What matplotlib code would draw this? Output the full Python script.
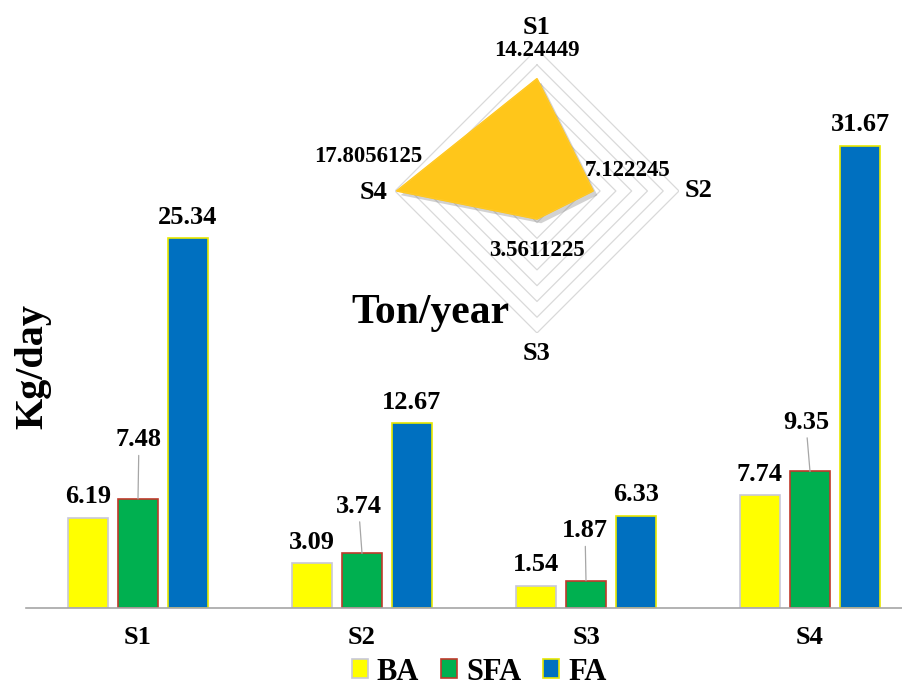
import numpy as np
import matplotlib
matplotlib.use("Agg")
import matplotlib.pyplot as plt
from matplotlib.patches import Patch
import matplotlib.patheffects as pe

plt.rcParams['font.family'] = ['Liberation Serif', 'DejaVu Serif']
plt.rcParams['font.weight'] = 'bold'

# data (Kg/day)
sites = ['S1', 'S2', 'S3', 'S4']
BA = [6.19, 3.09, 1.54, 7.74]
SFA = [7.48, 3.74, 1.87, 9.35]
FA = [25.34, 12.67, 6.33, 31.67]
series_names = ['BA', 'SFA', 'FA']

# radar data (Ton/year)
radar_vals = [14.24449, 7.122245, 3.5611225, 17.8056125]

W, H = 902, 688
def px(x, y):
    return x / W, 1 - y / H

fig = plt.figure(figsize=(W/100, H/100), dpi=100)

#------------------------------------------------------------------------------
# bar chart
ax = fig.add_axes([26/W, 1-608/H, (W-26)/W, 608/H])
x = np.arange(len(sites))
step = 50/224          # bar spacing inside a group
bw = 40/224            # bar width
face = ['#FFFF00', '#00B050', '#0070C0']
edge = ['#C8C8D8', '#C0392B', '#E8E800']
data = [BA, SFA, FA]
for k in range(3):
    ax.bar(x + (k-1)*step, data[k], width=bw, color=face[k], edgecolor=edge[k],
           linewidth=1.2, label=series_names[k], zorder=2)

ax.set_xlim(-0.5, (W-26)/224 - 0.5)
ax.set_ylim(0, 608/14.6)
for s in ['top', 'left', 'right']:
    ax.spines[s].set_visible(False)
ax.spines['bottom'].set_color('#A6A6A6')
ax.spines['bottom'].set_linewidth(1.2)
ax.set_yticks([])
ax.set_xticks(x)
ax.set_xticklabels(sites, fontsize=19, fontweight='bold')
ax.tick_params(axis='x', length=0, pad=13)
ax.patch.set_alpha(0)

# value labels: BA / FA right above, SFA with leader line
sfa_off = [(0.7, 42.5), (-2.5, 34), (-0.7, 36), (-3, 35.5)]
for i in range(len(sites)):
    ax.annotate(f'{BA[i]:.2f}', (x[i]-step, BA[i]), xytext=(0, 15), textcoords='offset points',
                ha='center', va='center', fontsize=19, fontweight='bold')
    ax.annotate(f'{FA[i]:.2f}', (x[i]+step, FA[i]), xytext=(0, 15), textcoords='offset points',
                ha='center', va='center', fontsize=19, fontweight='bold')
    ax.annotate(f'{SFA[i]:.2f}', (x[i], SFA[i]), xytext=sfa_off[i], textcoords='offset points',
                ha='center', va='center', fontsize=19, fontweight='bold',
                arrowprops=dict(arrowstyle='-', color='#A6A6A6', lw=0.9, shrinkA=1, shrinkB=0))

fig.text(*px(33, 367), 'Kg/day', rotation=90, ha='center', va='center', fontsize=29, fontweight='bold')

handles = [Patch(facecolor=face[k], edgecolor=edge[k], linewidth=1.2) for k in range(3)]
fig.legend(handles, series_names, loc='center', bbox_to_anchor=px(479, 672), ncol=3, frameon=False,
           handlelength=0.55, handleheight=0.55, handletextpad=0.28, columnspacing=0.7,
           prop=dict(size=22, weight='bold'))

#------------------------------------------------------------------------------
# radar inset
rax = fig.add_axes([395/W, 1-333/H, 284/W, 284/H], projection='polar')
rax.set_theta_offset(np.pi/2)
rax.set_theta_direction(-1)
rax.set_ylim(0, 18)
rax.grid(False)
rax.set_xticks([])
rax.set_yticks([])
rax.spines['polar'].set_visible(False)
rax.patch.set_alpha(0)

angles = np.linspace(0, 2*np.pi, len(sites), endpoint=False).tolist()
ang_c = angles + angles[:1]
for r in range(2, 19, 2):
    rax.plot(ang_c, [r]*5, color='#D9D9D9', lw=0.9, zorder=1)

vals_c = radar_vals + radar_vals[:1]
rax.fill(ang_c, vals_c, color='#FFC000', zorder=3,
         path_effects=[pe.SimplePatchShadow(offset=(3, -3), shadow_rgbFace='#808080', alpha=0.35), pe.Normal()])
rax.fill(ang_c, vals_c, color='#FFD34D', alpha=0.35, zorder=3)

# radar labels
cat_pos = [(537, 28), (699, 190), (537, 354), (374, 192)]
val_pos = [(537, 50), (628, 170), (537, 251), (368, 156)]
for i in range(len(sites)):
    fig.text(*px(*cat_pos[i]), sites[i], ha='center', va='center', fontsize=19, fontweight='bold')
    fig.text(*px(*val_pos[i]), str(radar_vals[i]), ha='center', va='center', fontsize=16.5, fontweight='bold')

fig.text(*px(430, 323), 'Ton/year', ha='center', va='baseline', fontsize=30, fontweight='bold')

fig.savefig('out.png', dpi=100)
